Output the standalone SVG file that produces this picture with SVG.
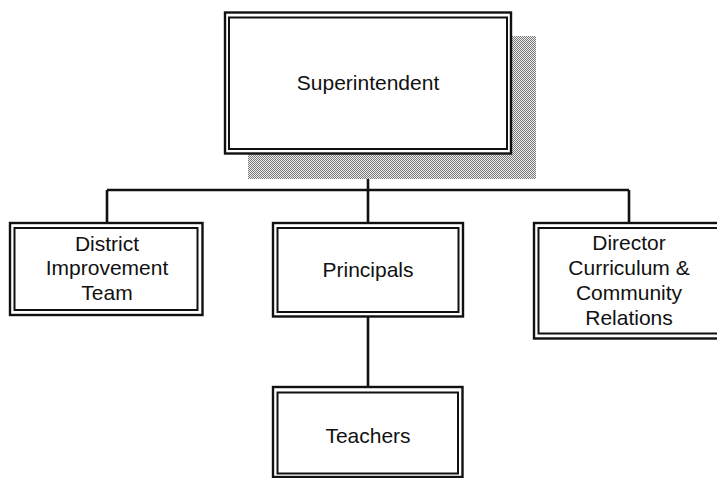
<svg xmlns="http://www.w3.org/2000/svg" width="717" height="478" viewBox="0 0 717 478">
<defs>
<pattern id="dither" width="2" height="2" patternUnits="userSpaceOnUse">
<rect width="2" height="2" fill="#ececec"/>
<rect x="0" y="0" width="1" height="1" fill="#7a7a7a"/>
<rect x="1" y="1" width="1" height="1" fill="#7a7a7a"/>
</pattern>
</defs>
<style>
.o{fill:#fff;stroke:#111;stroke-width:2.4}
.i{fill:none;stroke:#111;stroke-width:2}
.c{fill:none;stroke:#111;stroke-width:2.6}
text{font-family:"Liberation Sans",Arial,sans-serif;font-size:21px;fill:#111;text-anchor:middle}
</style>
<rect width="717" height="478" fill="#fff"/>
<g id="connectors">
<path class="c" d="M368 154V190M107 190H629M107 190V223M629 190V223M368 190V223M368 317V387"/>
</g>
<g id="superintendent">
<rect x="248" y="36" width="288" height="143" fill="url(#dither)"/>
<rect class="o" x="225" y="12.5" width="286" height="141"/>
<rect class="i" x="229" y="17.5" width="278" height="131.5"/>
<text x="368" y="90">Superintendent</text>
</g>
<g id="district">
<rect class="o" x="10" y="223" width="192.5" height="92"/>
<rect class="i" x="14.5" y="228" width="183" height="82"/>
<text x="107" y="251">District</text>
<text x="107" y="275">Improvement</text>
<text x="107" y="299.5">Team</text>
</g>
<g id="principals">
<rect class="o" x="273" y="223" width="190" height="93.5"/>
<rect class="i" x="277.5" y="228" width="181" height="84"/>
<text x="368" y="277">Principals</text>
</g>
<g id="director">
<rect class="o" x="534" y="223" width="195" height="115.5"/>
<rect class="i" x="538.5" y="228" width="186" height="105.5"/>
<text x="629" y="250">Director</text>
<text x="629" y="275">Curriculum &amp;</text>
<text x="629" y="299.5">Community</text>
<text x="629" y="325">Relations</text>
</g>
<g id="teachers">
<rect class="o" x="273" y="387" width="189.5" height="90"/>
<rect class="i" x="277.5" y="392.5" width="180.5" height="81"/>
<text x="368" y="442.5">Teachers</text>
</g>
</svg>
